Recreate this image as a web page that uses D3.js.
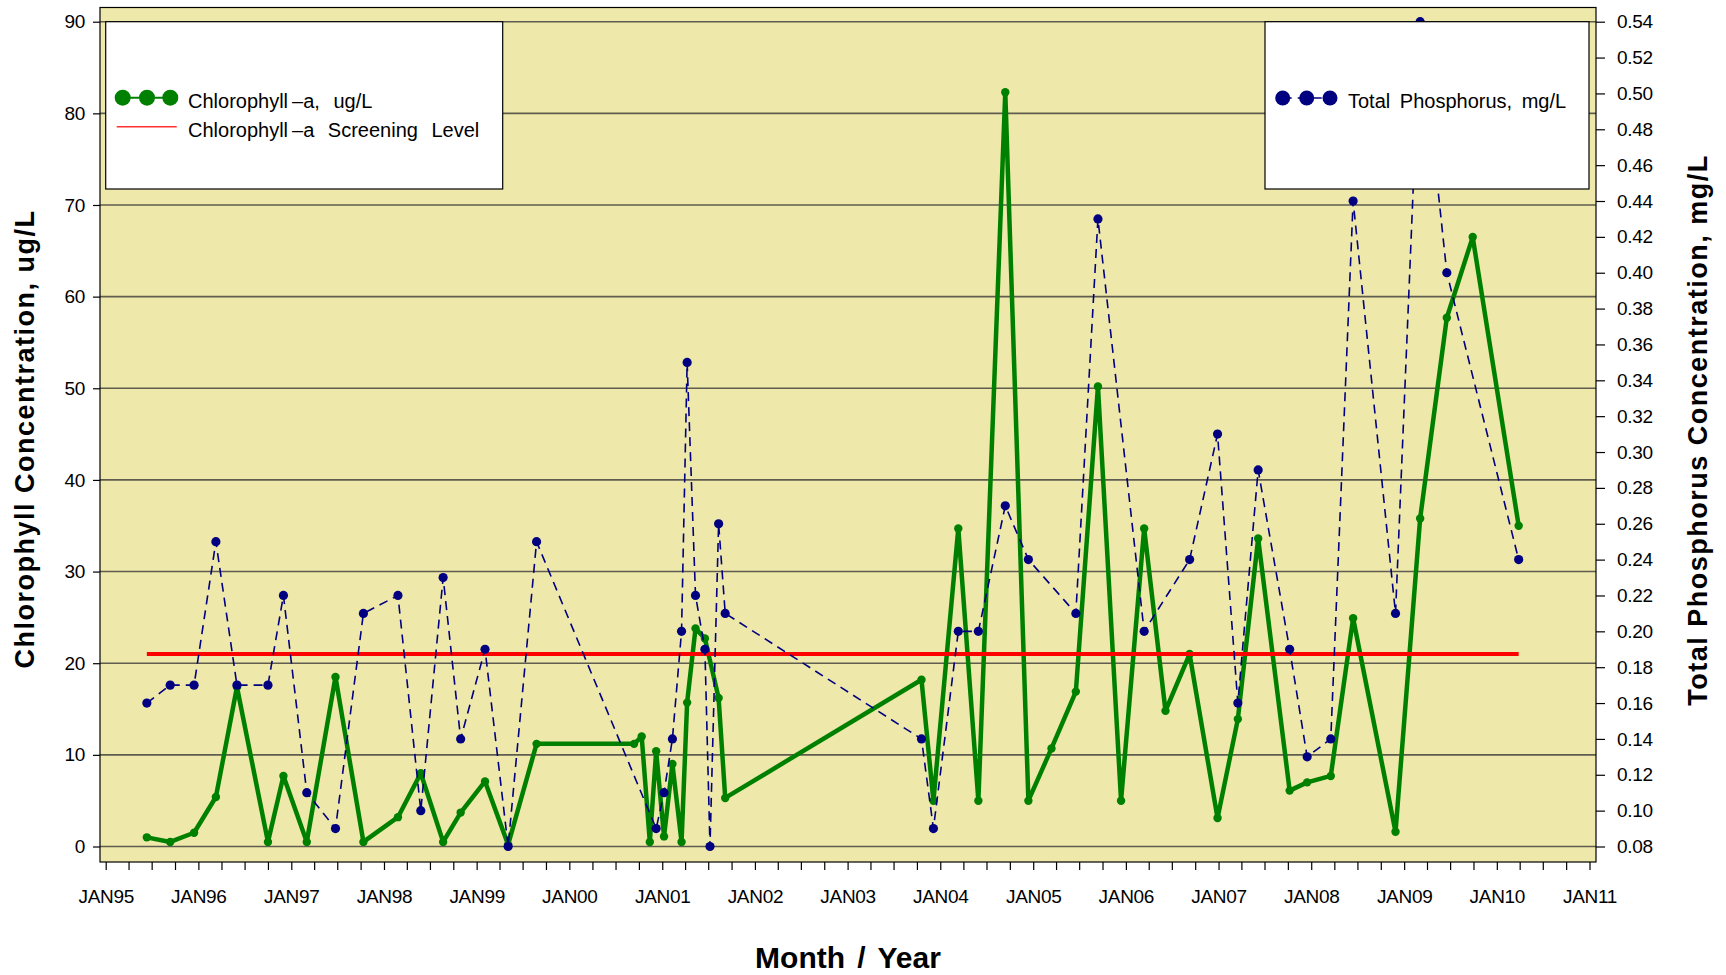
<!DOCTYPE html>
<html>
<head>
<meta charset="utf-8">
<script src="https://cdn.jsdelivr.net/npm/d3@7"></script>
<style>
  body { margin: 0; background: #fff; }
  text { font-family: "Liberation Sans", Arial, sans-serif; fill: #000; }
</style>
</head>
<body>
<div id="chart"></div>
<script>
// Chlorophyll-a samples (ug/L)
var chlDates = ["1995-06-12","1995-09-12","1995-12-15","1996-03-10","1996-06-01","1996-10-01","1996-12-01",
    "1997-03-03","1997-06-24","1997-10-12","1998-02-25","1998-05-26","1998-08-22","1998-10-30","1999-02-03",
    "1999-05-05","1999-08-25","2000-09-12","2000-10-12","2000-11-13","2000-12-08","2001-01-08","2001-02-10",
    "2001-03-18","2001-04-09","2001-05-12","2001-06-18","2001-08-11","2001-09-06","2003-10-19","2003-12-05",
    "2004-03-12","2004-05-30","2004-09-13","2004-12-13","2005-03-14","2005-06-18","2005-09-13","2005-12-13",
    "2006-03-14","2006-06-06","2006-09-09","2006-12-28","2007-03-18","2007-06-06","2007-10-08","2007-12-16",
    "2008-03-18","2008-06-14","2008-11-28","2009-03-05","2009-06-18","2009-09-28","2010-03-28"];
var chlValues = [1.0, 0.5, 1.5, 5.4, 17.4, 0.5, 7.7,
    0.5, 18.5, 0.5, 3.2, 8.0, 0.5, 3.7, 7.1,
    0.2, 11.2, 11.2, 12.0, 0.5, 10.4, 1.1, 9.0,
    0.5, 15.7, 23.8, 22.7, 16.2, 5.3, 18.2, 5.0,
    34.7, 5.0, 82.3, 5.0, 10.7, 16.9, 50.2, 5.0,
    34.7, 14.8, 21.0, 3.1, 13.9, 33.6, 6.1, 7.0,
    7.7, 24.9, 1.6, 35.8, 57.7, 66.5, 35.0];

// Total phosphorus samples (mg/L)
var tpDates = ["1995-06-12","1995-09-12","1995-12-15","1996-03-10","1996-06-01","1996-10-01","1996-12-01",
    "1997-03-03","1997-06-24","1997-10-12","1998-02-25","1998-05-26","1998-08-22","1998-10-30","1999-02-03",
    "1999-05-05","1999-08-25","2000-12-08","2001-01-08","2001-02-10","2001-03-18","2001-04-09","2001-05-12",
    "2001-06-18","2001-07-08","2001-08-11","2001-09-06","2003-10-19","2003-12-05","2004-03-12","2004-05-30",
    "2004-09-13","2004-12-13","2005-06-18","2005-09-13","2006-03-14","2006-09-09","2006-12-28","2007-03-18",
    "2007-06-06","2007-10-08","2007-12-16","2008-03-18","2008-06-14","2008-11-28","2009-03-05","2009-06-18",
    "2010-03-28"];
var tpValues = [0.16, 0.17, 0.17, 0.25, 0.17, 0.17, 0.22,
    0.11, 0.09, 0.21, 0.22, 0.10, 0.23, 0.14, 0.19,
    0.08, 0.25, 0.09, 0.11, 0.14, 0.20, 0.35, 0.22,
    0.19, 0.08, 0.26, 0.21, 0.14, 0.09, 0.20, 0.20,
    0.27, 0.24, 0.21, 0.43, 0.20, 0.24, 0.31, 0.16,
    0.29, 0.19, 0.13, 0.14, 0.44, 0.21, 0.54, 0.40,
    0.24];

var screeningLevel = 21;
var leftTicks = [0, 10, 20, 30, 40, 50, 60, 70, 80, 90];
var rightTicks = d3.range(8, 55, 2).map(function(v) { return v / 100; });
var xDomain = ["1995-01-01", "2011-01-01"];

var width = 1726, height = 975;
var frame = { left: 100, right: 1596, top: 7.5, bottom: 862 };

var parse = d3.timeParse("%Y-%m-%d");
var chl = chlDates.map(function(d, i) { return { date: parse(d), value: chlValues[i] }; });
var tp = tpDates.map(function(d, i) { return { date: parse(d), value: tpValues[i] }; });

var x = d3.scaleTime()
    .domain(xDomain.map(parse))
    .range([105.7, 1589.5]);

var y = d3.scaleLinear()
    .domain([0, 90])
    .range([846.5, 21.7]);

var y2 = d3.scaleLinear()
    .domain([0.08, 0.54])
    .range([846.5, 21.7]);

var svg = d3.select("#chart").append("svg")
    .attr("width", width)
    .attr("height", height);

svg.append("rect")
    .attr("x", frame.left)
    .attr("y", frame.top)
    .attr("width", frame.right - frame.left)
    .attr("height", frame.bottom - frame.top)
    .style("fill", "#eee8aa");

// gridlines on the left axis ticks
svg.append("g").selectAll("line")
    .data(leftTicks)
    .enter().append("line")
    .attr("x1", frame.left)
    .attr("x2", frame.right)
    .attr("y1", d => y(d))
    .attr("y2", d => y(d))
    .style("stroke", "#5f5d4f")
    .style("stroke-width", 1.6);

var chlLine = d3.line().x(d => x(d.date)).y(d => y(d.value));
var tpLine = d3.line().x(d => x(d.date)).y(d => y2(d.value));

svg.append("path")
    .datum(chl)
    .attr("d", chlLine)
    .style("fill", "none")
    .style("stroke", "#008000")
    .style("stroke-width", 4.5)
    .style("stroke-linejoin", "round");

svg.append("g").selectAll("circle")
    .data(chl)
    .enter().append("circle")
    .attr("cx", d => x(d.date))
    .attr("cy", d => y(d.value))
    .attr("r", 4.2)
    .style("fill", "#008000");

svg.append("line")
    .attr("x1", x(chl[0].date))
    .attr("x2", x(chl[chl.length - 1].date))
    .attr("y1", y(screeningLevel))
    .attr("y2", y(screeningLevel))
    .style("stroke", "#ff0000")
    .style("stroke-width", 4);

svg.append("path")
    .datum(tp)
    .attr("d", tpLine)
    .style("fill", "none")
    .style("stroke", "#000080")
    .style("stroke-width", 1.6)
    .style("stroke-dasharray", "9,6");

svg.append("g").selectAll("circle")
    .data(tp)
    .enter().append("circle")
    .attr("cx", d => x(d.date))
    .attr("cy", d => y2(d.value))
    .attr("r", 4.6)
    .style("fill", "#000080");

svg.append("rect")
    .attr("x", frame.left)
    .attr("y", frame.top)
    .attr("width", frame.right - frame.left)
    .attr("height", frame.bottom - frame.top)
    .style("fill", "none")
    .style("stroke", "#000")
    .style("stroke-width", 1.2);

// Axes
var janFormat = d3.timeFormat("%b%y");
var xAxis = d3.axisBottom(x)
    .ticks(d3.timeMonth.every(3))
    .tickSize(8)
    .tickPadding(20)
    .tickFormat(d => d.getMonth() === 0 ? janFormat(d).toUpperCase() : "");

var yAxis = d3.axisLeft(y)
    .tickValues(leftTicks)
    .tickSize(7)
    .tickPadding(8);

var y2Axis = d3.axisRight(y2)
    .tickValues(rightTicks)
    .tickSize(9)
    .tickPadding(12)
    .tickFormat(d3.format(".2f"));

function styleAxis(g) {
    g.select(".domain").remove();
    g.selectAll("line").style("stroke", "#000").style("stroke-width", 1.2);
    g.selectAll("text")
        .style("font-family", "'Liberation Sans', Arial, sans-serif")
        .style("font-size", "19px")
        .style("letter-spacing", "-0.3px")
        .style("fill", "#000");
}

svg.append("g")
    .attr("class", "x axis")
    .attr("transform", "translate(0," + frame.bottom + ")")
    .call(xAxis)
    .call(styleAxis);

svg.append("g")
    .attr("class", "y axis")
    .attr("transform", "translate(" + frame.left + ",0)")
    .call(yAxis)
    .call(styleAxis);

svg.append("g")
    .attr("class", "y2 axis")
    .attr("transform", "translate(" + frame.right + ",0)")
    .call(y2Axis)
    .call(styleAxis);

// Axis titles
svg.append("text")
    .attr("transform", "translate(34,439) rotate(-90)")
    .style("text-anchor", "middle")
    .style("font-weight", "bold")
    .style("font-size", "27px")
    .style("letter-spacing", "1.5px")
    .text("Chlorophyll Concentration, ug/L");

svg.append("text")
    .attr("transform", "translate(1707,430) rotate(-90)")
    .style("text-anchor", "middle")
    .style("font-weight", "bold")
    .style("font-size", "27px")
    .style("letter-spacing", "1.5px")
    .text("Total Phosphorus Concentration, mg/L");

svg.append("text")
    .attr("x", 848)
    .attr("y", 968)
    .style("text-anchor", "middle")
    .style("font-weight", "bold")
    .style("font-size", "30px")
    .style("word-spacing", "4px")
    .text("Month / Year");

// Legend, left
var legL = svg.append("g");
legL.append("rect")
    .attr("x", 105.7).attr("y", 21.7)
    .attr("width", 397).attr("height", 167.3)
    .style("fill", "#fff").style("stroke", "#000").style("stroke-width", 1.2);
legL.append("line")
    .attr("x1", 122.7).attr("x2", 170.3).attr("y1", 97.7).attr("y2", 97.7)
    .style("stroke", "#008000").style("stroke-width", 2);
legL.selectAll("circle")
    .data([122.7, 147, 170.3])
    .enter().append("circle")
    .attr("cx", d => d).attr("cy", 97.7).attr("r", 8)
    .style("fill", "#008000");
legL.append("line")
    .attr("x1", 116.7).attr("x2", 176.7).attr("y1", 126.7).attr("y2", 126.7)
    .style("stroke", "#ff3030").style("stroke-width", 1.4);
legL.append("text")
    .attr("x", 188).attr("y", 108)
    .style("font-size", "20px").style("word-spacing", "8px")
    .text("Chlorophyll\u2009\u2013a, ug/L");
legL.append("text")
    .attr("x", 188).attr("y", 137)
    .style("font-size", "20px").style("word-spacing", "8px")
    .text("Chlorophyll\u2009\u2013a Screening Level");

// Legend, right
var legR = svg.append("g");
legR.append("rect")
    .attr("x", 1265).attr("y", 21.7)
    .attr("width", 324).attr("height", 167.3)
    .style("fill", "#fff").style("stroke", "#000").style("stroke-width", 1.2);
legR.append("line")
    .attr("x1", 1282.7).attr("x2", 1330).attr("y1", 98).attr("y2", 98)
    .style("stroke", "#000080").style("stroke-width", 1.6)
    .style("stroke-dasharray", "9,6");
legR.selectAll("circle")
    .data([1282.7, 1306.7, 1330])
    .enter().append("circle")
    .attr("cx", d => d).attr("cy", 98).attr("r", 7.5)
    .style("fill", "#000080");
legR.append("text")
    .attr("x", 1348).attr("y", 108)
    .style("font-size", "20px").style("word-spacing", "4px")
    .text("Total Phosphorus, mg/L");
</script>
</body>
</html>
